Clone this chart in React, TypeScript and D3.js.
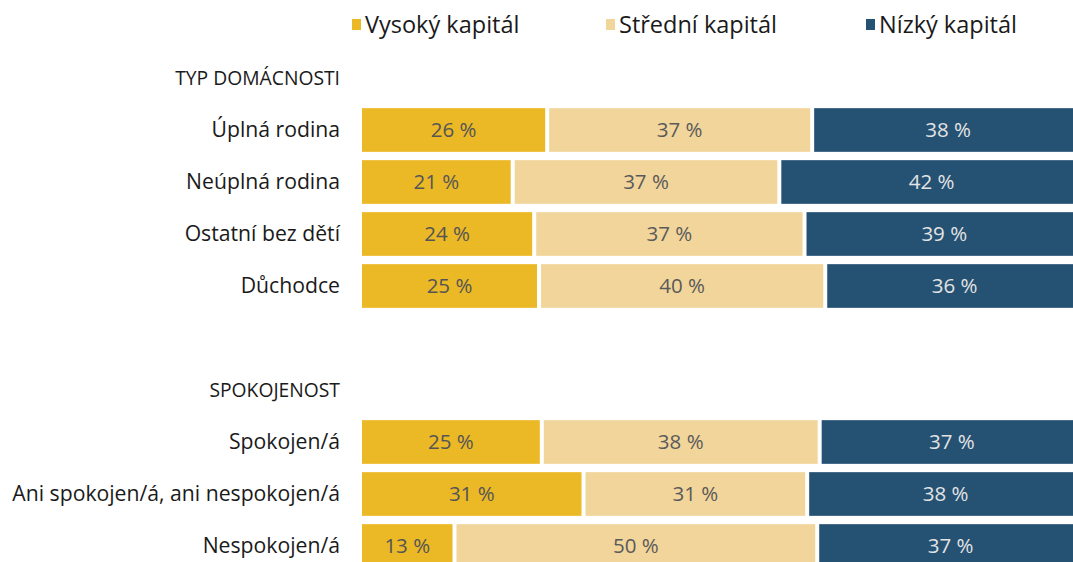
import React from "react";
import * as d3 from "d3";

const seriesNames = ["Vysoký kapitál", "Střední kapitál", "Nízký kapitál"];
const seriesColors = ["#EBB826", "#F2D59B", "#255173"];
const labelColors = ["#555555", "#5a5a5a", "#e3e3e3"];

const groupHousehold = "TYP DOMÁCNOSTI";
const householdCats = ["Úplná rodina", "Neúplná rodina", "Ostatní bez dětí", "Důchodce"];
const householdHigh = [25.65, 20.87, 23.85, 24.52];
const householdMid = [36.7, 36.93, 37.44, 39.64];
const householdLow = [37.65, 42.2, 38.71, 35.84];

const groupSatisfaction = "SPOKOJENOST";
const satisfactionCats = ["Spokojen/á", "Ani spokojen/á, ani nespokojen/á", "Nespokojen/á"];
const satisfactionHigh = [24.9, 30.68, 12.81];
const satisfactionMid = [38.49, 30.98, 50.24];
const satisfactionLow = [36.61, 38.34, 36.95];

type Row = { key: string; kind: "header" | "bar" | "blank"; label: string; values?: number[] };

const rows: Row[] = [
  { key: "h1", kind: "header", label: groupHousehold },
  ...householdCats.map((c, i) => ({ key: "a" + i, kind: "bar" as const, label: c, values: [householdHigh[i], householdMid[i], householdLow[i]] })),
  { key: "blank", kind: "blank", label: "" },
  { key: "h2", kind: "header", label: groupSatisfaction },
  ...satisfactionCats.map((c, i) => ({ key: "b" + i, kind: "bar" as const, label: c, values: [satisfactionHigh[i], satisfactionMid[i], satisfactionLow[i]] })),
];

const W = 1073;
const H = 562;
const FONT = "'Open Sans', 'Noto Sans', sans-serif";

export default function App() {
  const pad = 0.16;
  const step = 52;
  const start = 78 - step * (1 + pad) / 2;
  const y = d3.scaleBand<string>()
    .domain(rows.map(r => r.key))
    .range([start, start + step * (rows.length + pad)])
    .padding(pad);
  const x = d3.scaleLinear().domain([0, 100]).range([362, 362 + 722]);
  const bw = y.bandwidth();
  const labelX = 340;

  const legendX = [352, 606, 866];

  return (
    <svg width={W} height={H} style={{ position: "absolute", left: 0, top: 0, background: "#fff" }} fontFamily={FONT}>
      {seriesNames.map((s, i) => (
        <g key={s}>
          <rect x={legendX[i]} y={19} width={9} height={11} fill={seriesColors[i]} />
          <text x={legendX[i] + 13} y={25} dy="0.35em" fontSize={23.5} fill="#1a1a1a">{s}</text>
        </g>
      ))}
      {rows.map(r => {
        const yc = (y(r.key) as number) + bw / 2;
        if (r.kind === "blank") return null;
        if (r.kind === "header") {
          return (
            <text key={r.key} x={labelX} y={yc} dy="0.35em" textAnchor="end" fontSize={19.3} fill="#1a1a1a">{r.label}</text>
          );
        }
        const vals = r.values!;
        const stack = d3.cumsum(vals);
        return (
          <g key={r.key}>
            <text x={labelX} y={yc} dy="0.35em" textAnchor="end" fontSize={21.2} fill="#1a1a1a">{r.label}</text>
            {vals.map((v, i) => {
              const s0 = i === 0 ? 0 : stack[i - 1];
              const s1 = stack[i];
              const x0 = x(s0) + (i === 0 ? 0 : 2);
              const x1 = x(s1) - 2;
              return (
                <g key={i}>
                  <rect x={x0} y={y(r.key)} width={Math.max(0, x1 - x0)} height={bw} fill={seriesColors[i]} />
                  <text x={(x0 + x1) / 2} y={yc} dy="0.35em" textAnchor="middle" fontSize={20.5} fill={labelColors[i]}>{Math.round(v)} %</text>
                </g>
              );
            })}
          </g>
        );
      })}
    </svg>
  );
}
